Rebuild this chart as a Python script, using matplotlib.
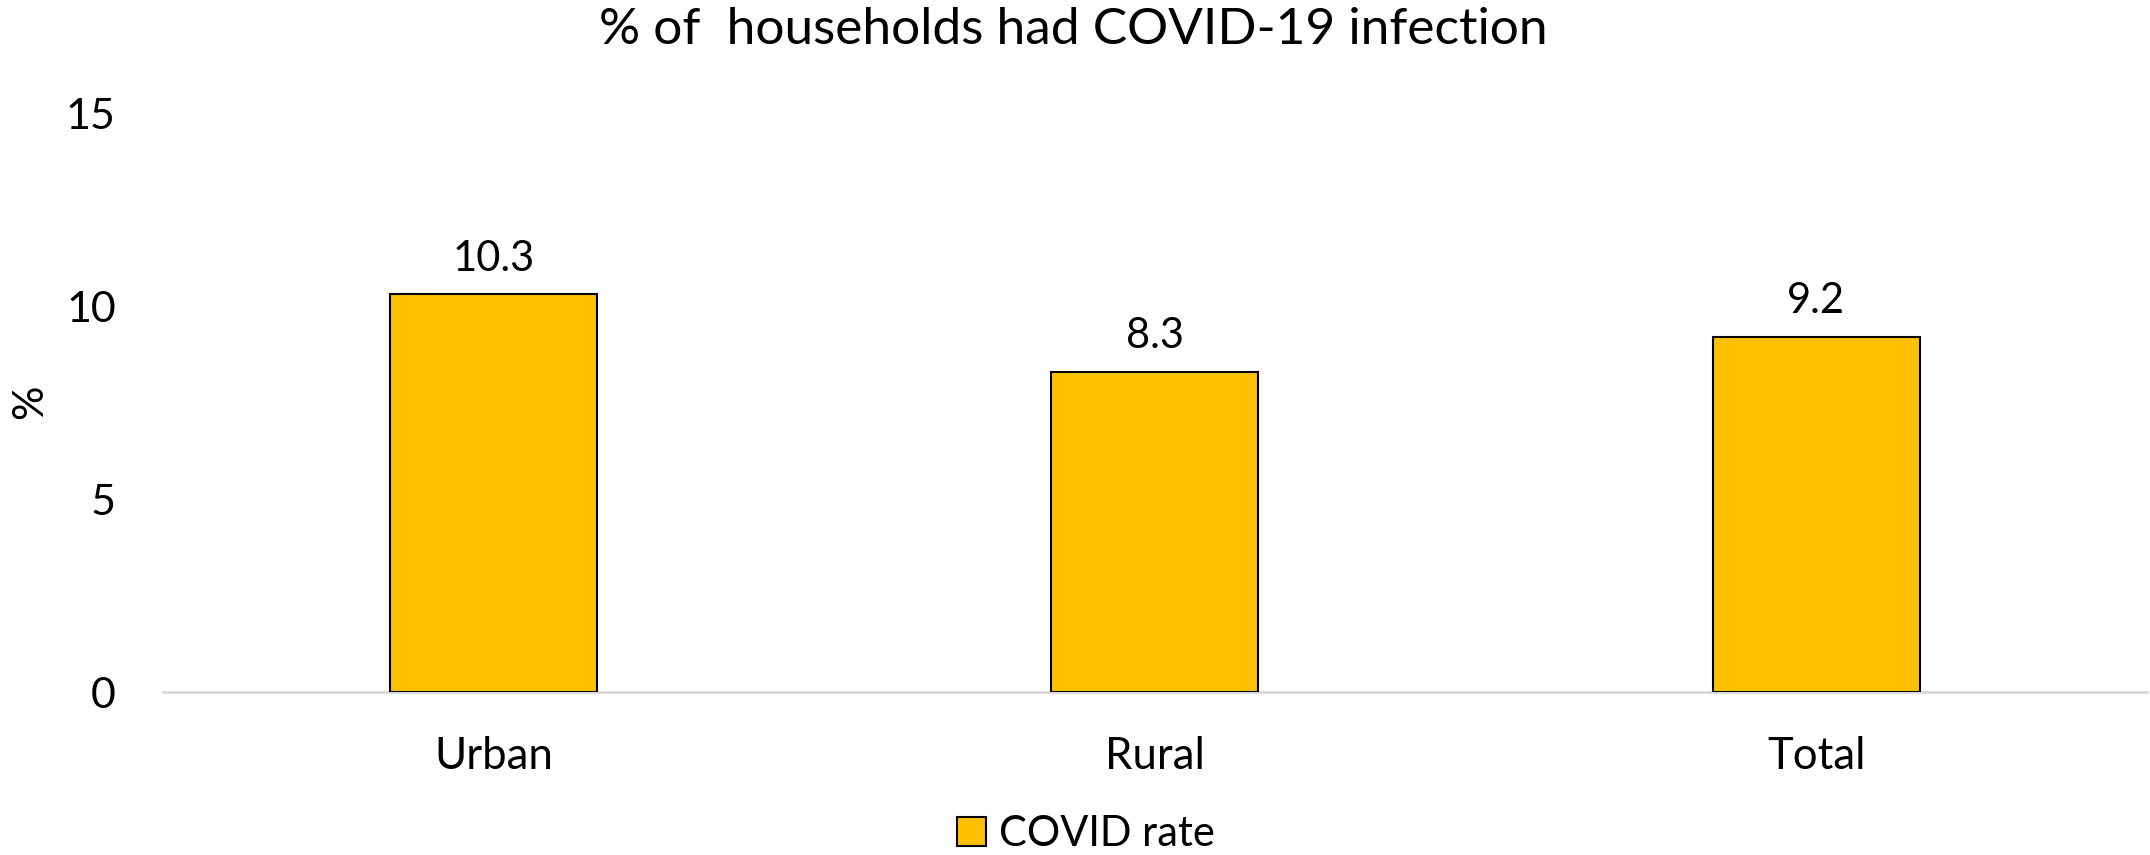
import matplotlib
matplotlib.use("Agg")
import matplotlib.pyplot as plt
from matplotlib.patches import Patch

categories = ["Urban", "Rural", "Total"]
covid_rate = [10.3, 8.3, 9.2]
y_ticks = [0, 5, 10, 15]
title = "% of  households had COVID-19 infection"
series_name = "COVID rate"

plt.rcParams['font.family'] = ['Lato', 'DejaVu Sans']
FS = 30
BAR = "#FFC000"

fig = plt.figure(figsize=(21.5, 8.55), dpi=100)
ax = fig.add_axes([0.0758, 0.1906, 0.9228, 0.6772])

x = list(range(len(categories)))
bars = ax.bar(x, covid_rate, width=0.313, color=BAR, edgecolor="black", linewidth=1.5, zorder=3)
for xi, v in zip(x, covid_rate):
    ax.annotate(f"{v:.1f}", (xi, v), xytext=(0, 12), textcoords="offset points",
                ha="center", va="bottom", fontsize=FS)

ax.set_xlim(-0.5, len(categories) - 0.5)
ax.set_ylim(0, 15)
ax.set_yticks(y_ticks)
ax.set_yticklabels([str(t) for t in y_ticks], fontsize=FS + 1)
ax.set_xticks(x)
ax.set_xticklabels(categories, fontsize=FS + 1.5)
ax.tick_params(axis="y", length=0, pad=34)
ax.tick_params(axis="x", length=0, pad=32)
for s in ["top", "right", "left"]:
    ax.spines[s].set_visible(False)
ax.spines["bottom"].set_color("#D9D9D9")
ax.spines["bottom"].set_linewidth(2)
ax.spines["bottom"].set_zorder(2)

fig.text(0.0140, 0.53, "%", rotation=90, fontsize=FS + 1, ha="center", va="center")
fig.text(0.499, 0.965, title, fontsize=37, ha="center", va="center")

handles = [Patch(facecolor=BAR, edgecolor="black", linewidth=1.5, label=series_name)]
fig.legend(handles=handles, loc="center", bbox_to_anchor=(0.505, 0.024), frameon=False,
           fontsize=FS, handlelength=0.7, handleheight=0.7, handletextpad=0.3)

fig.savefig("out.png", dpi=100)
